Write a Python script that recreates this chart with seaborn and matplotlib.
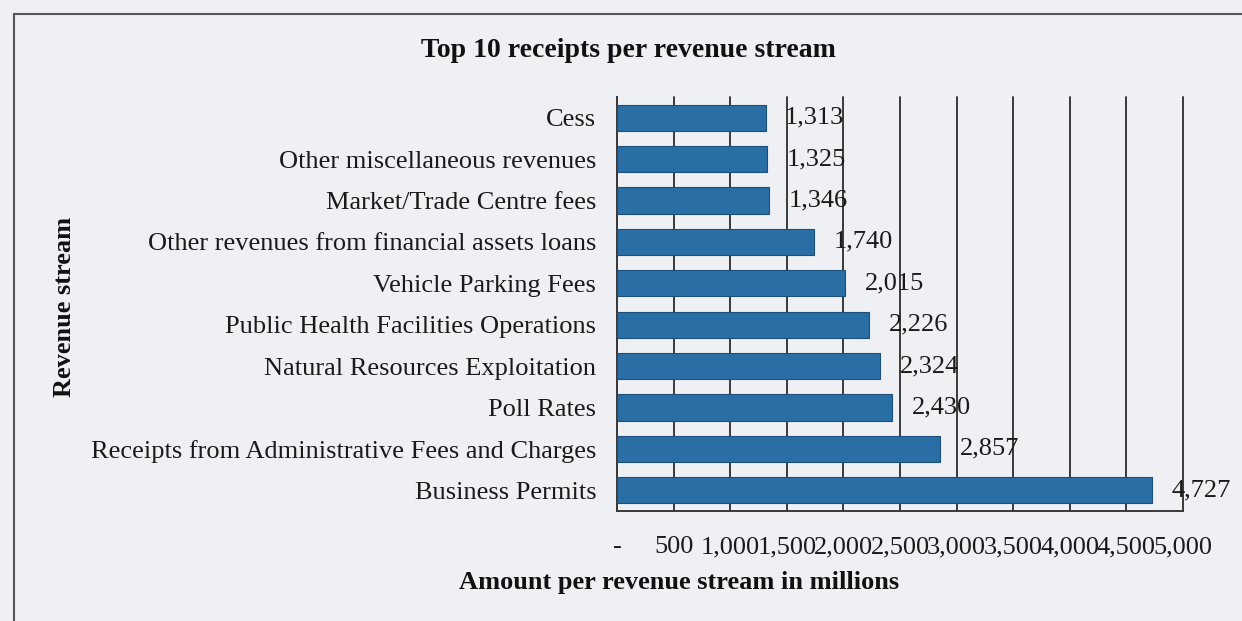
import pandas as pd
import matplotlib
matplotlib.use("Agg")
import matplotlib.pyplot as plt
import matplotlib.ticker as mticker
from matplotlib.patches import Rectangle
import seaborn as sns

# data (top to bottom)
streams = [
    "Cess",
    "Other miscellaneous revenues",
    "Market/Trade Centre fees",
    "Other revenues from financial assets loans",
    "Vehicle Parking Fees",
    "Public Health Facilities Operations",
    "Natural Resources Exploitation",
    "Poll Rates",
    "Receipts from Administrative Fees and Charges",
    "Business Permits",
]
amounts = [1313, 1325, 1346, 1740, 2015, 2226, 2324, 2430, 2857, 4727]
x_ticks = [0, 500, 1000, 1500, 2000, 2500, 3000, 3500, 4000, 4500, 5000]

df = pd.DataFrame({"stream": streams, "amount": amounts})

sns.set_style("white")
plt.rcParams["font.family"] = ["Liberation Serif", "DejaVu Serif"]

bg = "#eef0f4"
bar_color = "#2a6ea6"
grid_color = "#3a3a3a"
text_color = "#1a1a1a"

fig = plt.figure(figsize=(12.42, 6.21), dpi=100, facecolor=bg)
ax = fig.add_axes([0.4968, 0.1771, 0.4557, 0.6667])
ax.set_facecolor(bg)

sns.barplot(data=df, x="amount", y="stream", orient="h", color=bar_color,
            width=0.63, edgecolor="#1d4f7c", linewidth=0.8, saturation=1,
            ax=ax, zorder=3)

ax.set_xlim(0, 5000)
ax.set_ylim(9.5, -0.5)
ax.set_xticks(x_ticks)
ax.xaxis.set_major_formatter(mticker.FuncFormatter(
    lambda v, p: "-" if v == 0 else f"{int(v):,}"))
ax.grid(axis="x", color=grid_color, linewidth=1.4, zorder=0)
for gl in ax.get_xgridlines():
    gl.set_clip_on(False)
ax.grid(axis="y", visible=False)
ax.tick_params(axis="x", length=0, pad=18, labelsize=19, labelcolor=text_color)
ax.tick_params(axis="y", length=0, pad=15, labelsize=19, labelcolor=text_color)

for side in ["top", "right"]:
    ax.spines[side].set_visible(False)
for side in ["left", "bottom"]:
    ax.spines[side].set_color(grid_color)
    ax.spines[side].set_linewidth(1.4)

# value labels
for i, v in enumerate(amounts):
    ax.annotate(f"{v:,}", xy=(v, i), xytext=(14, 0), textcoords="offset points",
                va="center", ha="left", fontsize=19, color=text_color, zorder=4)

ax.set_xlabel("")
ax.set_ylabel("")
fig.text(0.547, 0.062, "Amount per revenue stream in millions", ha="center",
         va="center", fontsize=19, fontweight="bold", color="#111111")
fig.text(0.052, 0.505, "Revenue stream", rotation=90, ha="center", va="center",
         fontsize=19, fontweight="bold", color="#111111")
fig.text(0.506, 0.918, "Top 10 receipts per revenue stream", ha="center",
         va="center", fontsize=20, fontweight="bold", color="#111111")

# frame around the chart
fig.patches.append(Rectangle((14 / 1242, -0.05), 1.1, 1.05 - 14 / 621,
                             transform=fig.transFigure, fill=False,
                             edgecolor="#555555", linewidth=1.5))

fig.savefig("out.png", dpi=100, facecolor=bg)
